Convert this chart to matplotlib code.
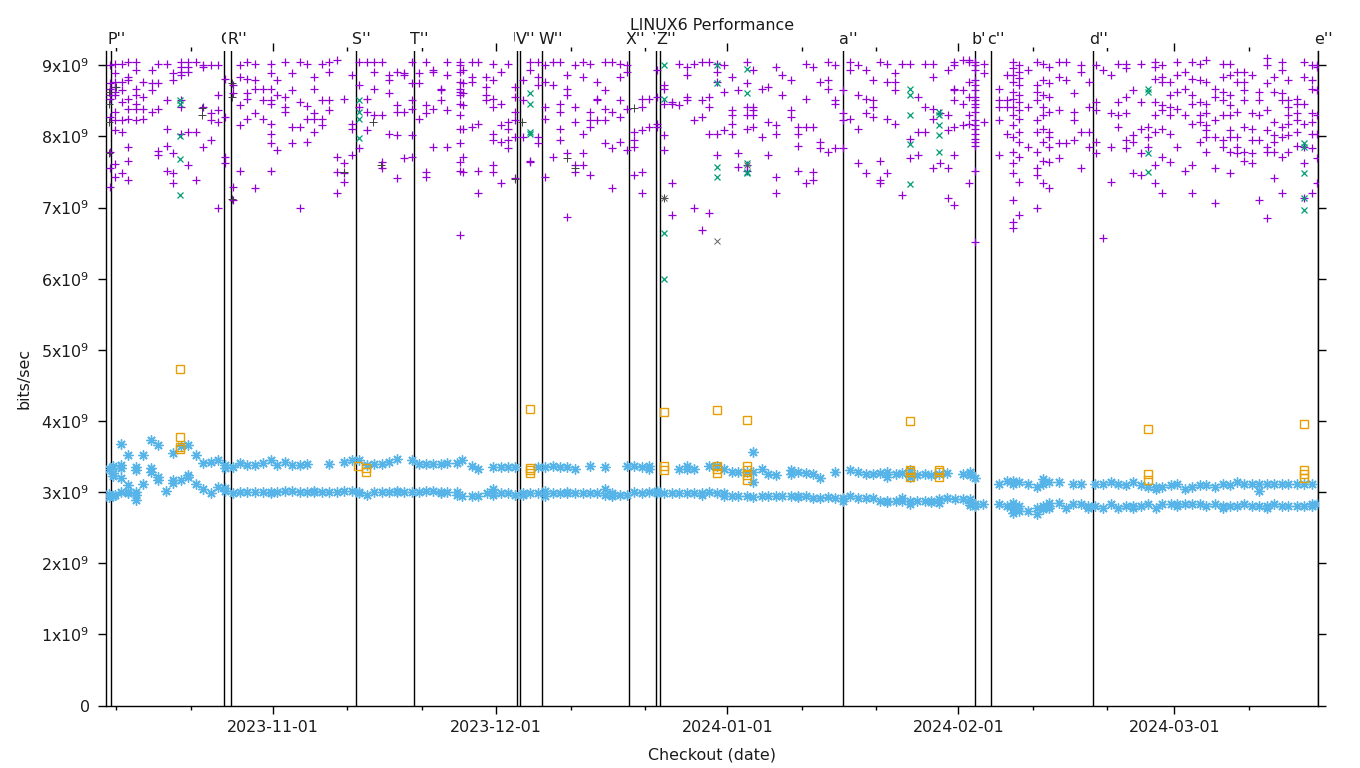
import matplotlib
matplotlib.use("Agg")
import matplotlib.pyplot as plt
import matplotlib.transforms as mtransforms
import matplotlib.dates as mdates
from matplotlib.ticker import FixedLocator, FuncFormatter
import pandas as pd

plt.rcParams["font.family"] = ["DejaVu Sans"]
plt.rcParams["mathtext.default"] = "regular"

# --- data: days since 2023-10-01, values in units of 1e9 bits/sec ---
base = pd.Timestamp("2023-10-01")

purple_day = [9.2, 9.8, 10.8, 11.6, 12.7, 13.6, 14.8, 15.6, 16.8, 17.6, 18.7, 19.6, 20.7, 21.6,
              22.7, 23.7, 24.6, 25.7, 26.6, 27.5, 28.6, 29.7, 30.8, 31.6, 32.6, 33.6, 34.6, 35.6,
              36.5, 37.6, 38.5, 39.6, 40.6, 41.6, 42.6, 43.6, 44.6, 45.6, 46.6, 47.7, 48.6, 49.7,
              50.6, 51.6, 52.5, 53.6, 54.4, 56.1, 56.5, 57.7, 58.5, 59.6, 60.5, 61.6, 62.6, 63.5,
              64.6, 65.5, 66.6, 67.6, 68.6, 69.5, 70.5, 71.5, 72.6, 73.6, 74.5, 75.6, 76.5, 77.6,
              78.5, 79.5, 80.5, 81.5, 82.6, 83.5, 84.6, 85.5, 86.6, 87.5, 88.6, 89.5, 90.6, 91.5,
              92.6, 93.5, 94.6, 95.4, 96.6, 97.4, 98.6, 99.4, 100.6, 101.5, 102.5, 103.5, 104.4,
              105.5, 106.4, 107.5, 108.4, 109.5, 110.6, 111.5, 112.5, 113.4, 114.5, 115.5, 116.5,
              117.6, 118.5, 119.6, 120.5, 121.6, 122.4, 123.6, 124.5, 125.3, 126.5, 128.4, 129.5,
              130.3, 131.1, 132.4, 133.5, 134.4, 135.2, 136.5, 137.5, 138.5, 139.5, 140.5, 141.5,
              142.4, 143.5, 144.4, 145.5, 146.4, 147.5, 148.4, 149.4, 150.3, 151.4, 152.4, 153.4,
              154.4, 155.4, 156.3, 157.4, 158.5, 159.4, 160.4, 161.4, 162.4, 163.3, 164.4, 165.3,
              166.4, 167.3, 168.4, 169.4, 170.4, 171.2]
purple_val = [
    [9.0, 8.75, 8.67, 8.58, 8.53, 8.27, 7.78, 7.55, 7.29],
    [9.02, 8.89, 8.76, 8.7, 8.63, 8.58, 8.34, 8.23, 8.09, 7.61, 7.43],
    [9.02, 8.76, 8.65, 8.48, 8.23, 8.06, 7.48],
    [9.04, 8.83, 8.79, 8.53, 8.39, 8.25, 7.85, 7.66, 7.38],
    [9.04, 8.93, 8.67, 8.58, 8.46, 8.39, 8.23],
    [8.76, 8.55, 8.39, 8.25],
    [8.93, 8.75, 8.65, 8.34],
    [9.02, 8.75, 8.39, 7.8, 7.74],
    [9.02, 8.51, 8.11, 7.87, 7.52],
    [8.89, 8.79, 7.77, 7.48, 7.34],
    [9.04, 8.97, 8.9, 8.86, 8.51, 8.41, 8.04],
    [9.04, 8.97, 8.9, 8.06, 7.6],
    [9.04, 8.06, 7.38],
    [9.0, 8.97, 8.41, 7.85],
    [9.0, 8.33, 8.23, 7.95],
    [9.0, 8.58, 8.37, 8.2, 6.99],
    [8.81, 8.27, 7.71, 7.62],
    [8.72, 8.61, 7.29, 7.1],
    [9.0, 8.83, 8.44, 8.16, 7.52],
    [9.04, 8.81, 8.61, 8.53, 8.25],
    [9.02, 8.79, 8.67, 8.33, 7.27],
    [8.67, 8.51, 8.25],
    [9.02, 8.89, 8.67, 8.51, 8.46, 8.18, 8.04, 7.9, 7.52],
    [8.79, 8.58, 7.81],
    [9.04, 8.55, 8.41, 8.34],
    [8.89, 8.65, 8.13, 7.9],
    [9.04, 8.48, 8.13, 7.0],
    [9.02, 8.43, 8.25, 7.92],
    [8.83, 8.67, 8.33, 8.25, 8.06],
    [9.02, 8.51, 8.25, 8.16],
    [9.04, 8.9, 8.51, 8.37],
    [9.07, 7.71, 7.5, 7.2],
    [8.53, 7.62, 7.48, 7.36],
    [8.86, 8.18, 8.11, 7.74],
    [9.04, 8.72, 8.41, 7.84],
    [9.04, 8.53, 8.34, 8.09],
    [9.04, 8.9, 8.67, 8.3],
    [9.04, 8.3, 7.64, 7.55],
    [8.86, 8.79, 8.61, 8.04],
    [8.9, 8.44, 8.34, 8.02, 7.41],
    [8.89, 8.86, 8.34, 7.69],
    [9.04, 8.75, 8.51, 8.39, 8.02, 7.71],
    [8.89, 8.75, 8.25],
    [9.04, 8.44, 8.33, 7.5, 7.43],
    [8.93, 8.9, 8.39, 7.85],
    [8.67, 8.65, 8.51],
    [9.04, 8.86, 8.37, 7.85],
    [9.04, 9.0, 8.9, 8.76, 8.67, 8.62, 8.58, 8.46, 8.3, 8.11, 7.9, 7.64, 7.52, 6.61],
    [8.93, 8.75, 8.61, 8.44, 8.11, 7.71, 7.5],
    [9.04, 8.83, 8.76, 8.13],
    [9.04, 8.18, 7.52, 7.21],
    [8.83, 8.69, 8.58, 8.51],
    [9.02, 8.79, 8.53, 8.41, 8.04, 7.95, 7.6, 7.5],
    [8.9, 8.46, 8.16, 7.92, 7.34],
    [9.02, 8.2, 8.11, 7.95, 7.84],
    [8.69, 8.55, 8.34, 8.23, 7.99, 7.41],
    [8.79, 8.51, 7.99],
    [9.04, 8.93, 7.66, 7.64],
    [9.04, 8.83, 8.72, 7.99, 7.9],
    [9.0, 8.76, 8.41, 8.25, 7.43],
    [9.04, 8.72, 7.71],
    [9.04, 8.46, 8.34, 8.11, 7.95],
    [8.86, 8.67, 8.58, 7.77, 6.86],
    [9.0, 8.41, 8.2, 7.6, 7.5],
    [9.04, 8.83, 8.04, 7.77, 7.6],
    [9.02, 8.34, 8.23, 8.13, 7.45],
    [8.76, 8.53, 8.51, 8.23],
    [9.04, 8.65, 8.39, 8.23, 7.9],
    [9.04, 8.34, 7.84, 7.27],
    [9.02, 8.83, 8.51, 8.27, 7.92],
    [9.0, 8.9, 8.39, 7.81],
    [8.06, 7.95, 7.85, 7.45],
    [8.53, 8.41, 8.09, 7.5, 7.21],
    [8.53, 8.13],
    [8.93, 8.55, 8.18, 8.13],
    [8.72, 8.67, 8.46, 8.02, 7.81],
    [8.48, 8.46, 7.34, 6.89],
    [9.02, 8.44],
    [8.97, 8.86, 8.55, 8.51],
    [9.02, 8.23, 7.0],
    [9.04, 8.51, 8.27, 6.68],
    [9.04, 8.55, 8.41, 8.04, 6.92],
    [9.02, 8.9, 8.76, 8.04, 7.74],
    [9.0, 8.62, 8.09],
    [8.83, 8.37, 8.3, 8.18, 8.04],
    [8.65, 7.77, 7.57],
    [9.04, 8.75, 8.41, 8.3, 8.11, 7.6, 7.52],
    [8.93, 8.41, 8.37, 8.3, 8.13],
    [8.67, 7.99],
    [8.69, 8.2, 7.74],
    [8.97, 8.16, 8.04, 7.43, 7.2],
    [8.86, 8.58],
    [8.79, 8.37, 8.27],
    [8.13, 8.04, 7.87, 7.52],
    [9.02, 8.53, 8.13, 7.34],
    [8.97, 8.13, 7.5, 7.38],
    [8.76, 7.92, 7.84],
    [9.04, 8.79, 8.67, 7.78],
    [9.0, 8.51, 8.46, 7.84],
    [8.65, 8.33, 8.23, 7.84],
    [9.04, 8.93, 8.25],
    [9.0, 8.58, 8.11, 7.62],
    [8.93, 8.53, 8.33, 7.48],
    [8.79, 8.51, 8.41, 8.27],
    [9.04, 7.66, 7.38, 7.34],
    [9.02, 8.76, 8.25, 7.48],
    [8.89, 8.76, 8.65, 8.18],
    [9.02, 7.17],
    [9.02, 7.97, 7.69],
    [8.55, 8.06, 7.74],
    [9.02, 8.41, 8.06],
    [9.02, 8.83, 8.39, 8.25, 7.55],
    [8.33, 7.62],
    [8.93, 8.3, 8.09, 7.55, 7.14],
    [9.04, 9.0, 8.67, 8.65, 8.51, 8.13, 7.74, 7.03],
    [9.07, 8.65, 8.46, 8.16],
    [9.07, 9.04, 8.76, 8.55, 8.3, 8.18, 7.34],
    [9.04, 9.0, 8.93, 8.79, 8.72, 8.65, 8.55, 8.51, 8.46, 8.41, 8.34, 8.23, 8.16, 8.11,
     8.04, 7.97, 7.92, 7.87, 7.52, 6.51],
    [9.02, 8.89, 8.2],
    [8.67, 8.51, 8.41, 8.23, 7.74],
    [8.86, 8.51, 8.41, 8.04],
    [9.04, 8.96, 8.86, 8.76, 8.62, 8.53, 8.41, 8.3, 8.16, 7.99, 7.78, 7.62, 7.48, 7.1, 6.79, 6.71],
    [9.0, 8.9, 8.82, 8.72, 8.58, 8.48, 8.37, 8.25, 8.06, 7.92, 7.71, 7.36, 6.89],
    [8.93, 8.41, 7.85],
    [9.04, 8.72, 8.62, 8.51, 8.23, 8.06, 7.78, 7.55, 7.45, 6.99],
    [9.02, 8.79, 8.58, 8.41, 8.3, 8.11, 7.92, 7.66, 7.34],
    [8.97, 8.75, 8.55, 8.34, 8.06, 7.99, 7.85, 7.64, 7.27],
    [9.04, 8.83, 8.37, 7.9, 7.69],
    [9.04, 8.79, 7.9],
    [8.61, 8.34, 8.23, 7.95],
    [9.0, 8.9, 8.06, 7.55],
    [8.76, 8.41, 8.06, 7.85],
    [9.0, 8.48, 8.37, 7.92, 7.77],
    [8.93, 6.57],
    [8.86, 8.33, 7.85, 7.36],
    [9.02, 8.48, 8.3, 8.13],
    [9.02, 8.96, 8.55, 8.33, 7.95, 7.84],
    [8.65, 8.02, 7.92, 7.48],
    [9.02, 8.48, 8.11, 7.77, 7.45],
    [8.13, 7.99, 7.85],
    [9.04, 8.97, 8.81, 8.48, 8.3, 8.06, 7.6, 7.34],
    [9.0, 8.83, 8.76, 8.44, 8.37, 8.11, 7.71, 7.2],
    [8.76, 8.58, 8.41, 8.3, 8.04, 7.64],
    [9.04, 8.86, 8.62, 8.39, 7.85],
    [8.9, 8.67, 8.3, 7.52],
    [9.04, 8.81, 8.58, 8.46, 8.18, 7.6, 7.2],
    [9.02, 8.79, 8.48, 8.3, 8.2, 7.92],
    [9.07, 8.76, 8.46, 8.33, 8.16, 8.09, 7.99, 7.78],
    [8.67, 8.55, 8.23, 7.99, 7.55, 7.06],
    [9.02, 8.83, 8.62, 8.51, 8.3, 7.95, 7.85],
    [9.02, 8.86, 8.58, 8.44, 8.3, 8.09, 7.99, 7.78, 7.48],
    [8.9, 8.76, 8.34, 7.99, 7.85, 7.77],
    [8.9, 8.76, 8.65, 8.51, 8.13, 7.78, 7.66],
    [8.86, 8.33, 8.11, 7.95, 7.77, 7.62],
    [8.62, 8.51, 8.3, 7.95, 7.1],
    [9.1, 9.0, 8.75, 8.37, 8.09, 7.85, 7.78, 6.85],
    [8.83, 8.62, 8.2, 8.02, 7.92, 7.78, 7.41],
    [9.04, 8.93, 8.61, 8.51, 8.13, 7.99, 7.71, 7.21],
    [8.79, 8.51, 8.41, 8.3, 8.18, 8.02, 7.78],
    [8.53, 8.46, 8.33, 8.23, 8.06, 7.87],
    [9.04, 8.83, 8.46, 8.18, 7.85, 7.62, 7.13],
    [9.0, 8.79, 8.67, 8.33, 8.2, 8.04, 7.84, 7.21],
    [9.0, 8.97, 8.65, 8.3, 8.04, 7.69, 7.34],
]

gray_day = [9.0, 10.0, 21.5, 25.5, 40.5, 44.5, 45.5, 63.5, 64.5, 70.5, 71.5, 79.5, 83.5]
gray_val = [
    [8.62, 8.46, 8.2, 7.76],
    [8.7],
    [8.4, 8.3],
    [8.75, 8.55, 7.12],
    [7.5],
    [8.2],
    [7.6],
    [7.4],
    [8.2],
    [7.7],
    [7.55],
    [8.4],
    [7.14],
]

green_day = [18.6, 42.6, 65.5, 83.5, 90.6, 94.6, 116.5, 120.4, 148.4, 169.4]
green_val = [
    [8.51, 8.46, 8.0, 7.68, 7.18],
    [8.51, 8.34, 8.25, 7.98],
    [8.61, 8.45, 8.06, 8.04],
    [9.0, 8.52, 6.64, 6.0],
    [9.0, 8.75, 7.57, 7.43],
    [8.94, 8.61, 7.62, 7.5, 7.48],
    [8.66, 8.58, 8.3, 7.89, 7.33],
    [8.34, 8.3, 8.16, 8.02, 7.78],
    [8.67, 8.62, 7.77, 7.5],
    [7.9, 7.85, 7.48, 7.13, 6.96],
]

grayx_day = [83.5, 90.6, 94.6]
grayx_val = [[7.14], [6.53], [7.6]]

blue_day = [9.0, 9.5, 9.8, 10.6, 11.6, 12.7, 13.6, 14.7, 15.6, 16.7, 17.6, 18.7, 19.6, 20.7,
            21.6, 22.7, 23.7, 24.6, 25.7, 26.6, 27.5, 28.6, 29.7, 30.8, 31.6, 32.6, 33.6, 34.6,
            35.6, 36.6, 37.6, 38.5, 39.6, 40.6, 41.6, 42.6, 43.6, 44.6, 45.6, 46.6, 47.7, 48.6,
            49.7, 50.6, 51.6, 52.5, 53.6, 54.4, 55.7, 56.4, 57.7, 58.5, 59.7, 60.5, 61.6, 62.6,
            63.5, 64.6, 65.5, 66.6, 67.5, 68.6, 69.5, 70.5, 71.5, 72.6, 73.6, 74.5, 75.6, 76.5,
            77.6, 78.5, 79.5, 80.5, 81.5, 82.6, 83.5, 84.6, 85.5, 86.6, 87.5, 88.6, 89.5, 90.6,
            91.5, 92.6, 93.5, 94.6, 95.4, 96.6, 97.4, 98.6, 99.4, 100.6, 101.5, 102.5, 103.5,
            104.4, 105.5, 106.4, 107.5, 108.4, 109.5, 110.6, 111.5, 112.5, 113.4, 114.7, 115.5,
            116.5, 117.4, 118.5, 119.4, 120.4, 121.5, 122.5, 123.6, 124.6, 125.3, 126.3, 128.4,
            129.5, 130.3, 131.1, 132.4, 133.5, 134.4, 135.2, 136.5, 137.4, 138.4, 139.4, 140.4,
            141.4, 142.4, 143.5, 144.4, 145.5, 146.4, 147.5, 148.4, 149.5, 150.4, 151.5, 152.4,
            153.4, 154.4, 155.4, 156.3, 157.4, 158.5, 159.4, 160.4, 161.4, 162.4, 163.3, 164.4,
            165.3, 166.4, 167.3, 168.4, 169.4, 170.4, 171.2]
blue_val = [
    [3.33, 2.97, 2.93], [2.95, 3.22, 3.27, 3.36], [2.96], [3.68, 3.38, 3.34, 3.2, 3.0],
    [3.52, 3.1, 3.0, 2.98], [3.35, 3.31, 3.0, 2.96, 2.89], [3.52, 3.11], [3.73, 3.34, 3.28],
    [3.66, 3.21, 3.17], [3.02], [3.55, 3.17, 3.13], [3.65, 3.17], [3.66, 3.24, 3.21],
    [3.52, 3.11], [3.41, 3.04], [3.42, 2.98], [3.45, 3.07], [3.38, 3.34, 3.06], [3.35, 2.98],
    [3.41, 3.0], [3.38, 3.0], [3.38, 3.0], [3.41, 3.0], [3.45, 3.0], [3.38, 3.0], [3.42, 3.02],
    [3.38, 3.01], [3.38, 3.0], [3.4, 3.0], [3.0], [3.0], [3.39, 3.0], [3.0], [3.42, 3.02],
    [3.45, 3.02], [3.45, 3.0], [3.38, 2.96], [3.39, 3.0], [3.4, 3.0], [3.42, 3.0], [3.47, 3.0],
    [3.0], [3.45, 3.0], [3.4, 3.0], [3.4, 3.01], [3.4, 3.02], [3.39, 3.0], [3.41, 3.0],
    [3.41, 3.0, 2.96], [3.45, 2.94], [3.37, 2.95], [3.33, 2.95], [2.98], [3.35, 3.05, 2.96],
    [3.35, 2.98], [3.35, 2.98], [3.35, 2.96], [2.96], [2.98], [3.35, 2.98], [3.35, 3.02, 2.94],
    [3.36, 2.98], [3.35, 2.98], [3.35, 3.0], [3.33, 2.98], [2.98], [3.37, 2.98], [2.98],
    [3.35, 3.05, 2.96], [2.96, 2.94], [2.96], [3.36, 2.96], [3.36, 3.0], [3.35, 2.98],
    [3.37, 3.33, 3.0], [3.02, 3.0], [2.98], [2.98], [3.33, 2.98], [3.37, 3.33, 2.98],
    [3.33, 2.98], [2.98], [3.37, 3.0], [3.37, 2.98], [3.33, 2.98, 2.95], [3.28, 2.94],
    [3.28, 2.95], [3.28, 2.95], [3.56, 3.28, 3.14], [3.33, 2.95], [3.26, 2.95], [3.24, 2.94],
    [2.95], [3.31, 3.26, 2.95], [3.28, 2.95], [3.27, 2.94], [3.25, 2.92], [3.2, 2.92], [2.93],
    [3.28, 2.92], [2.91], [3.31, 2.95], [3.28, 2.92], [3.26, 2.92], [3.26, 2.92], [3.27, 2.88],
    [3.28, 3.21, 2.88], [3.26, 2.88], [3.27, 2.92, 2.88], [3.31, 3.21, 2.88, 2.83],
    [3.24, 2.88], [3.26, 2.88], [3.24, 2.88], [3.26, 2.9, 2.85], [3.27, 2.92], [2.9],
    [3.26, 2.9], [3.28, 3.24, 2.9, 2.85], [3.2, 2.83, 2.8], [2.83], [3.11, 2.83], [3.16, 2.8],
    [3.16, 3.12, 2.85, 2.76, 2.71], [3.14, 2.8, 2.74], [3.11, 2.74], [3.07, 2.78, 2.69],
    [3.18, 3.12, 2.8, 2.76], [3.14, 2.85, 2.8], [3.14, 2.85], [2.78], [3.11, 2.83],
    [3.11, 2.83], [2.8], [3.11, 2.8], [3.11, 2.78], [3.14, 2.83], [3.12, 2.78], [3.1, 2.8],
    [3.14, 2.8], [3.1, 2.8], [3.07, 2.83], [3.07, 3.05, 2.78], [3.07, 2.83], [3.1, 2.83],
    [3.12, 2.83], [3.05, 2.83], [3.07, 2.83], [3.1, 2.83], [3.1, 2.8], [3.07, 2.83],
    [3.12, 2.8], [3.1, 2.8], [3.14, 2.8], [3.11, 2.83], [3.11, 2.8], [3.11, 3.02, 2.8],
    [3.11, 2.8], [3.11, 2.83], [3.11, 2.8], [3.11, 2.8], [3.11, 2.8], [3.11, 2.8],
    [3.11, 2.83], [2.83],
]

# extra readings stacked on the lower band (it is drawn thick in the source)
blue_low_day = [24.6, 30.8, 36.6, 42.6, 47.7, 53.6, 60.5, 64.6, 70.5, 76.5, 82.6, 88.6, 95.4,
                101.5, 107.5, 113.4, 119.4, 124.6, 130.3, 135.2, 140.4, 146.4, 152.4, 158.5,
                164.4, 170.4]
blue_low_val = [[3.02], [2.98], [3.02], [2.98], [3.02], [2.98], [2.98], [2.98], [2.98], [2.98],
                [2.98], [2.96], [2.93], [2.93], [2.88], [2.86], [2.86], [2.82], [2.8], [2.78],
                [2.78], [2.78], [2.8], [2.78], [2.78], [2.8]]

orange_day = [18.5, 42.4, 43.5, 65.5, 83.5, 90.6, 94.6, 116.5, 120.4, 148.4, 169.4]
orange_val = [
    [4.73, 3.78, 3.64, 3.6],
    [3.36],
    [3.34, 3.28],
    [4.17, 3.34, 3.31, 3.27],
    [4.13, 3.37, 3.31],
    [4.15, 3.37, 3.33, 3.27],
    [4.02, 3.37, 3.31, 3.24, 3.17],
    [4.0, 3.31, 3.28, 3.21],
    [3.31, 3.28, 3.21],
    [3.89, 3.26, 3.17],
    [3.96, 3.31, 3.26, 3.2],
]

event_dates = ["2023-10-10 08:00", "2023-10-25 12:00", "2023-10-26 10:30", "2023-11-12 05:00",
               "2023-11-20 00:00", "2023-12-03 19:00", "2023-12-04 05:00", "2023-12-07 04:00",
               "2023-12-18 20:00", "2023-12-22 11:00", "2023-12-23 00:00", "2024-01-16 13:00",
               "2024-02-03 06:00", "2024-02-05 10:00", "2024-02-19 02:00", "2024-03-20 06:30"]
event_labels = ["P''", "Q''", "R''", "S''", "T''", "U''", "V''", "W''",
                "X''", "Y''", "Z''", "a''", "b''", "c''", "d''", "e''"]

x_start = "2023-10-09 15:00"
x_end = "2024-03-20 06:30"
y_ticks = [0, 1, 2, 3, 4, 5, 6, 7, 8, 9]


def expand(days, vals):
    xs, ys = [], []
    for d, vs in zip(days, vals):
        for v in vs:
            xs.append(base + pd.Timedelta(days=d))
            ys.append(v * 1e9)
    return xs, ys


fig = plt.figure(figsize=(13.6, 7.68), dpi=100)
ax = fig.add_axes([106 / 1360, 1 - 705.5 / 768, 1212 / 1360, 654.5 / 768])

fs = 11.4
px, py = expand(purple_day, purple_val)
ax.plot(px, py, ls="none", marker="+", ms=5.6, mew=0.9, color="#9400D3", zorder=3)
gx, gy = expand(gray_day, gray_val)
ax.plot(gx, gy, ls="none", marker="+", ms=5.6, mew=0.7, color="#404040", zorder=3)
grx, gry = expand(green_day, green_val)
ax.plot(grx, gry, ls="none", marker="x", ms=5.0, mew=0.9, color="#009E73", zorder=4)
gxx, gxy = expand(grayx_day, grayx_val)
ax.plot(gxx, gxy, ls="none", marker="x", ms=5.0, mew=0.7, color="#606060", zorder=4)
bx, by = expand(blue_day, blue_val)
ax.plot(bx, by, ls="none", marker=(8, 2, 0), ms=7.2, mew=1.0, color="#56B4E9", zorder=3)
blx, bly = expand(blue_low_day, blue_low_val)
ax.plot(blx, bly, ls="none", marker=(8, 2, 0), ms=7.2, mew=1.0, color="#56B4E9", zorder=3)
ox, oy = expand(orange_day, orange_val)
ax.plot(ox, oy, ls="none", marker="s", ms=5.3, mew=1.0, mfc="none", mec="#E69F00", zorder=4)

label_tf = mtransforms.offset_copy(
    mtransforms.blended_transform_factory(ax.transData, ax.transAxes),
    fig=fig, x=-4, y=0, units="dots")
for d, lab in zip(event_dates, event_labels):
    t = pd.Timestamp(d)
    ax.axvline(t, color="black", lw=1.0, zorder=2)
    # labels have an opaque background, so a later label hides the one just before it
    ax.text(t, 1.017, lab, transform=label_tf, ha="left", va="center", fontsize=fs,
            color="#1a1a1a", clip_on=False,
            bbox=dict(boxstyle="square,pad=0.05", facecolor="white", edgecolor="none"))

ax.set_xlim(pd.Timestamp(x_start), pd.Timestamp(x_end))
ax.set_ylim(0, 9.2e9)

ax.xaxis.set_major_locator(mdates.MonthLocator())
ax.xaxis.set_minor_locator(mdates.DayLocator(bymonthday=[11, 21]))
ax.xaxis.set_major_formatter(mdates.DateFormatter("%Y-%m-%d"))
ax.yaxis.set_major_locator(FixedLocator([v * 1e9 for v in y_ticks]))
ax.yaxis.set_major_formatter(FuncFormatter(
    lambda v, p: "0" if v == 0 else r"$%d\mathrm{x}10^{9}$" % round(v / 1e9)))

ax.spines["top"].set_visible(False)
for s in ["left", "right", "bottom"]:
    ax.spines[s].set_linewidth(1.0)
ax.tick_params(axis="both", which="both", direction="out", top=True, right=True,
               labelsize=fs, colors="black", width=1.0)
ax.tick_params(axis="x", which="major", length=5.8, pad=5)
ax.tick_params(axis="x", which="minor", length=2.8)
ax.tick_params(axis="y", which="major", length=5.8, pad=6)
for lbl in ax.get_xticklabels() + ax.get_yticklabels():
    lbl.set_color("#1a1a1a")

fig.text(712 / 1360, 1 - 25 / 768, "LINUX6 Performance", ha="center", va="center",
         fontsize=fs, color="#1a1a1a")
fig.text(24 / 1360, 1 - 378 / 768, "bits/sec", ha="center", va="center", rotation=90,
         fontsize=fs, color="#1a1a1a")
fig.text(712 / 1360, 1 - 755 / 768, "Checkout (date)", ha="center", va="center",
         fontsize=fs, color="#1a1a1a")

fig.savefig("out.png", dpi=100)
